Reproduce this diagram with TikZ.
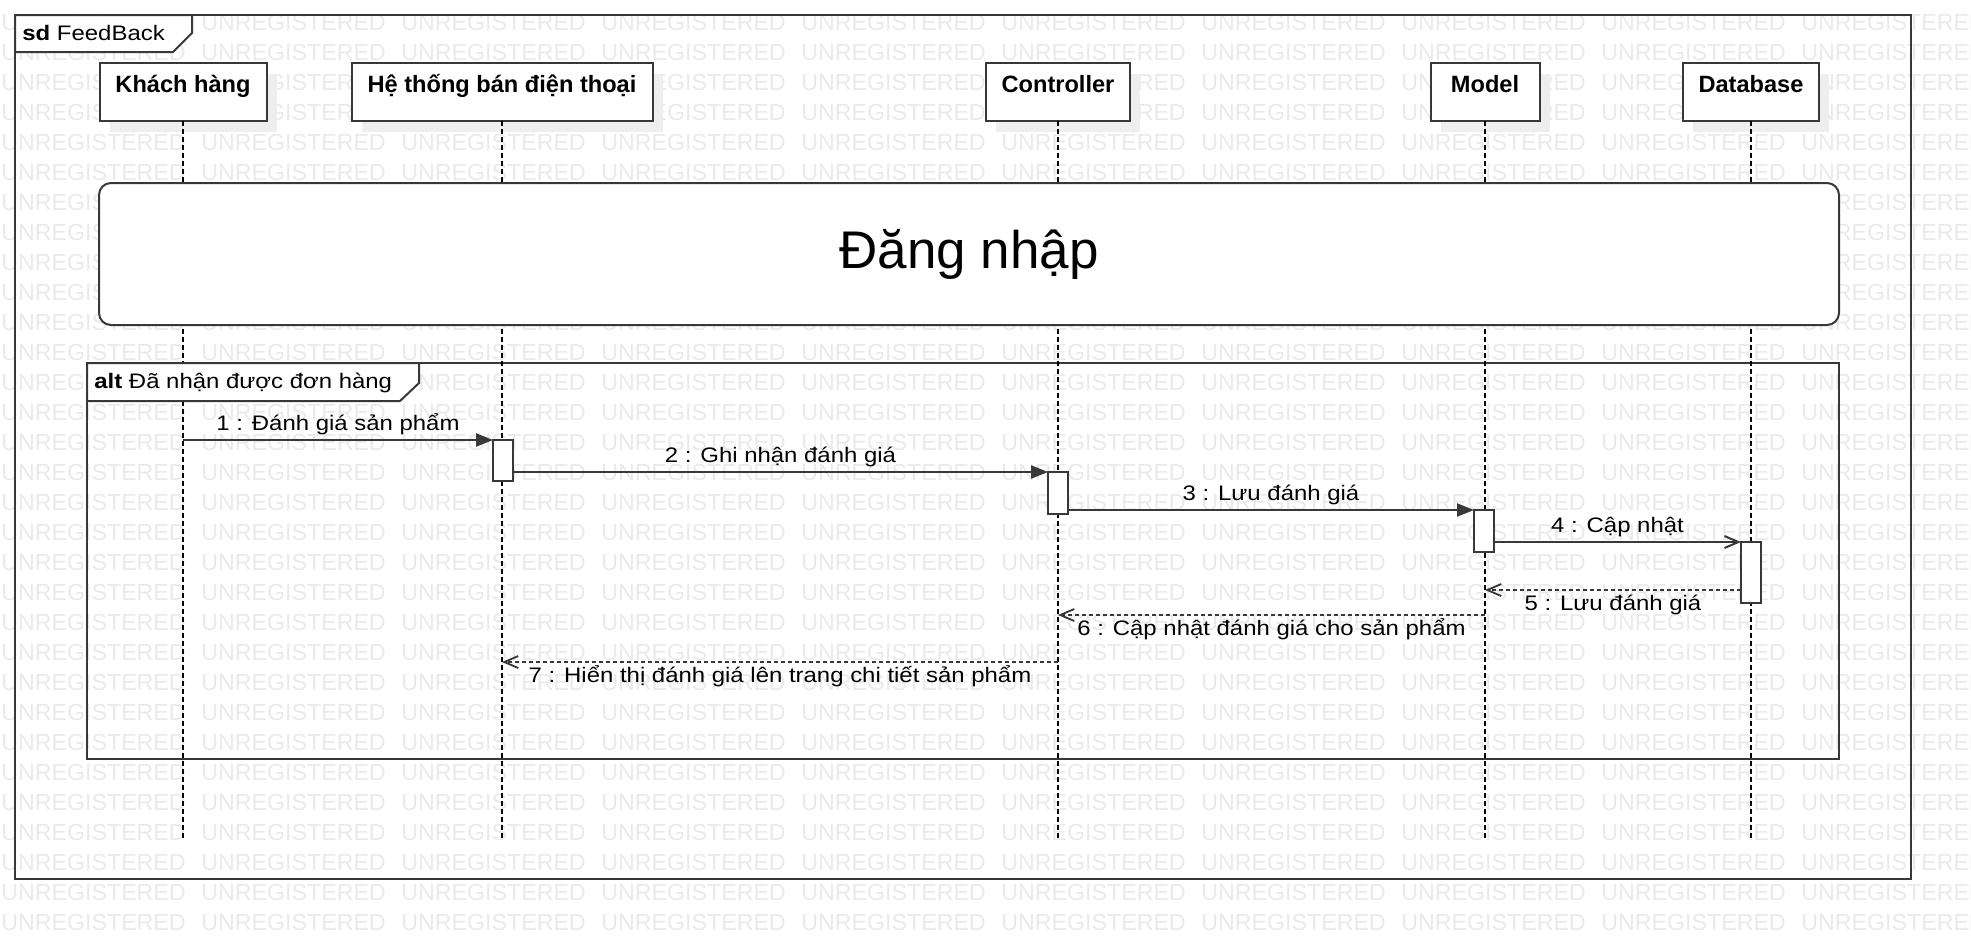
\documentclass[tikz,border=0pt]{standalone}
\usepackage{fontspec}
\setmainfont{Liberation Sans}
\newfontfamily\msgfont[FakeStretch=1.14]{Liberation Sans}
\usetikzlibrary{arrows.meta,shadows}
\definecolor{wm}{HTML}{EAEAEA}
\definecolor{ln}{HTML}{383838}
\definecolor{shd}{HTML}{EEEEEE}
\begin{document}
\begin{tikzpicture}[x=0.5pt,y=-0.5pt,
  wmtext/.style={anchor=base west,inner sep=0,text=wm,font=\fontsize{11.6}{13}\selectfont},
  framebox/.style={draw=ln,line width=1pt},
  tabbox/.style={draw=ln,line width=1pt,fill=white},
  tabtext/.style={anchor=base west,inner sep=0,font=\msgfont\fontsize{10.5}{12}\selectfont},
  partbox/.style={draw=ln,line width=1pt,fill=white,inner sep=0,outer sep=0,
    minimum height=29pt,text height=14.5pt,text depth=14.5pt,
    font=\bfseries\fontsize{11.8}{14}\selectfont,
    drop shadow={shadow xshift=5pt,shadow yshift=-5.5pt,fill=shd,opacity=1}},
  lifeline/.style={line width=0.75pt,dash pattern=on 2.5pt off 1.5pt},
  refbox/.style={draw=ln,line width=1pt,fill=white,rounded corners=6pt,
    minimum width=870pt,minimum height=71pt,font=\fontsize{26.5}{30}\selectfont},
  actbox/.style={draw=ln,line width=1pt,fill=white,inner sep=0,outer sep=0,
    minimum width=10pt,anchor=north},
  sync/.style={draw=ln,line width=1pt,-{Triangle[length=8.5pt,width=6.5pt]}},
  async/.style={draw=ln,line width=1pt,-{Straight Barb[length=7pt,width=6pt]}},
  reply/.style={draw=ln,line width=0.9pt,dash pattern=on 2pt off 1.5pt,
    -{Straight Barb[length=7pt,width=6pt]}},
  msgabove/.style={anchor=base,inner sep=0,yshift=5pt,font=\msgfont\fontsize{10.5}{12}\selectfont},
  msgbelow/.style={anchor=base,inner sep=0,yshift=-10pt,font=\msgfont\fontsize{10.5}{12}\selectfont}
]
\useasboundingbox (0,0) rectangle (1971,939);
\fill[white] (0,0) rectangle (1971,939);
% watermark
\begin{scope}
  \clip (0,0) rectangle (1971,939);
  \foreach \r in {1,...,31}{
    \foreach \c in {0,...,9}{
      \node[wmtext] (wm-\r-\c) at ({1+200*\c},{30*\r}) {UNREGISTERED};
    }
  }
\end{scope}
% frames
\draw[framebox] (15,15) rectangle (1911,879);
\draw[framebox] (87,363) rectangle (1839,759);
% lifeline ends
\coordinate (kh-end) at (183,838);
\coordinate (hs-end) at (502,838);
\coordinate (ct-end) at (1058,838);
\coordinate (md-end) at (1485,838);
\coordinate (db-end) at (1751,838);
% participants
\node[partbox,minimum width=83.5pt] (kh) at (183,92) {Khách hàng};
\node[partbox,minimum width=150.5pt] (hs) at (502,92) {Hệ thống bán điện thoại};
\node[partbox,minimum width=72pt] (ct) at (1058,92) {Controller};
\node[partbox,minimum width=54.5pt] (md) at (1485,92) {Model};
\node[partbox,minimum width=68pt] (db) at (1751,92) {Database};
% lifelines
\draw[lifeline] (kh.south) -- (kh-end);
\draw[lifeline] (hs.south) -- (hs-end);
\draw[lifeline] (ct.south) -- (ct-end);
\draw[lifeline] (md.south) -- (md-end);
\draw[lifeline] (db.south) -- (db-end);
% interaction use
\node[refbox] (login) at (969,254) {Đăng nhập};
% activations
\node[actbox,minimum height=20.5pt] (a1) at (503,440) {};
\node[actbox,minimum height=21pt] (a2) at (1058,472) {};
\node[actbox,minimum height=21pt] (a3) at (1484,510) {};
\node[actbox,minimum height=30.5pt] (a4) at (1751,542) {};
% reply levels
\coordinate (y5) at (0,590);
\coordinate (y6) at (0,615);
\coordinate (y7) at (0,662);
% messages
\draw[sync] (kh.south |- a1.north) -- node[msgabove] (m1) {1 : Đánh giá sản phẩm} (a1.north west);
\draw[sync] (a1.east |- a2.north) -- node[msgabove] (m2) {2 : Ghi nhận đánh giá} (a2.north west);
\draw[sync] (a2.east |- a3.north) -- node[msgabove] (m3) {3 : Lưu đánh giá} (a3.north west);
\draw[async] (a3.east |- a4.north) -- node[msgabove] (m4) {4 : Cập nhật} (a4.north west);
\draw[reply] (a4.west |- y5) -- node[msgbelow] (m5) {5 : Lưu đánh giá} (md.south |- y5);
\draw[reply] (md.south |- y6) -- node[msgbelow] (m6) {6 : Cập nhật đánh giá cho sản phẩm} (ct.south |- y6);
\draw[reply] (ct.south |- y7) -- node[msgbelow] (m7) {7 : Hiển thị đánh giá lên trang chi tiết sản phẩm} (hs.south |- y7);
% tabs
\draw[tabbox] (15,15) -- (192,15) -- (192,33) -- (173,52) -- (15,52) -- cycle;
\node[tabtext] (sdlabel) at (22,40) {\textbf{sd} FeedBack};
\draw[tabbox] (87,363) -- (419,363) -- (419,383) -- (400,401) -- (87,401) -- cycle;
\node[tabtext] (altlabel) at (94,388) {\textbf{alt} Đã nhận được đơn hàng};
\end{tikzpicture}
\end{document}
